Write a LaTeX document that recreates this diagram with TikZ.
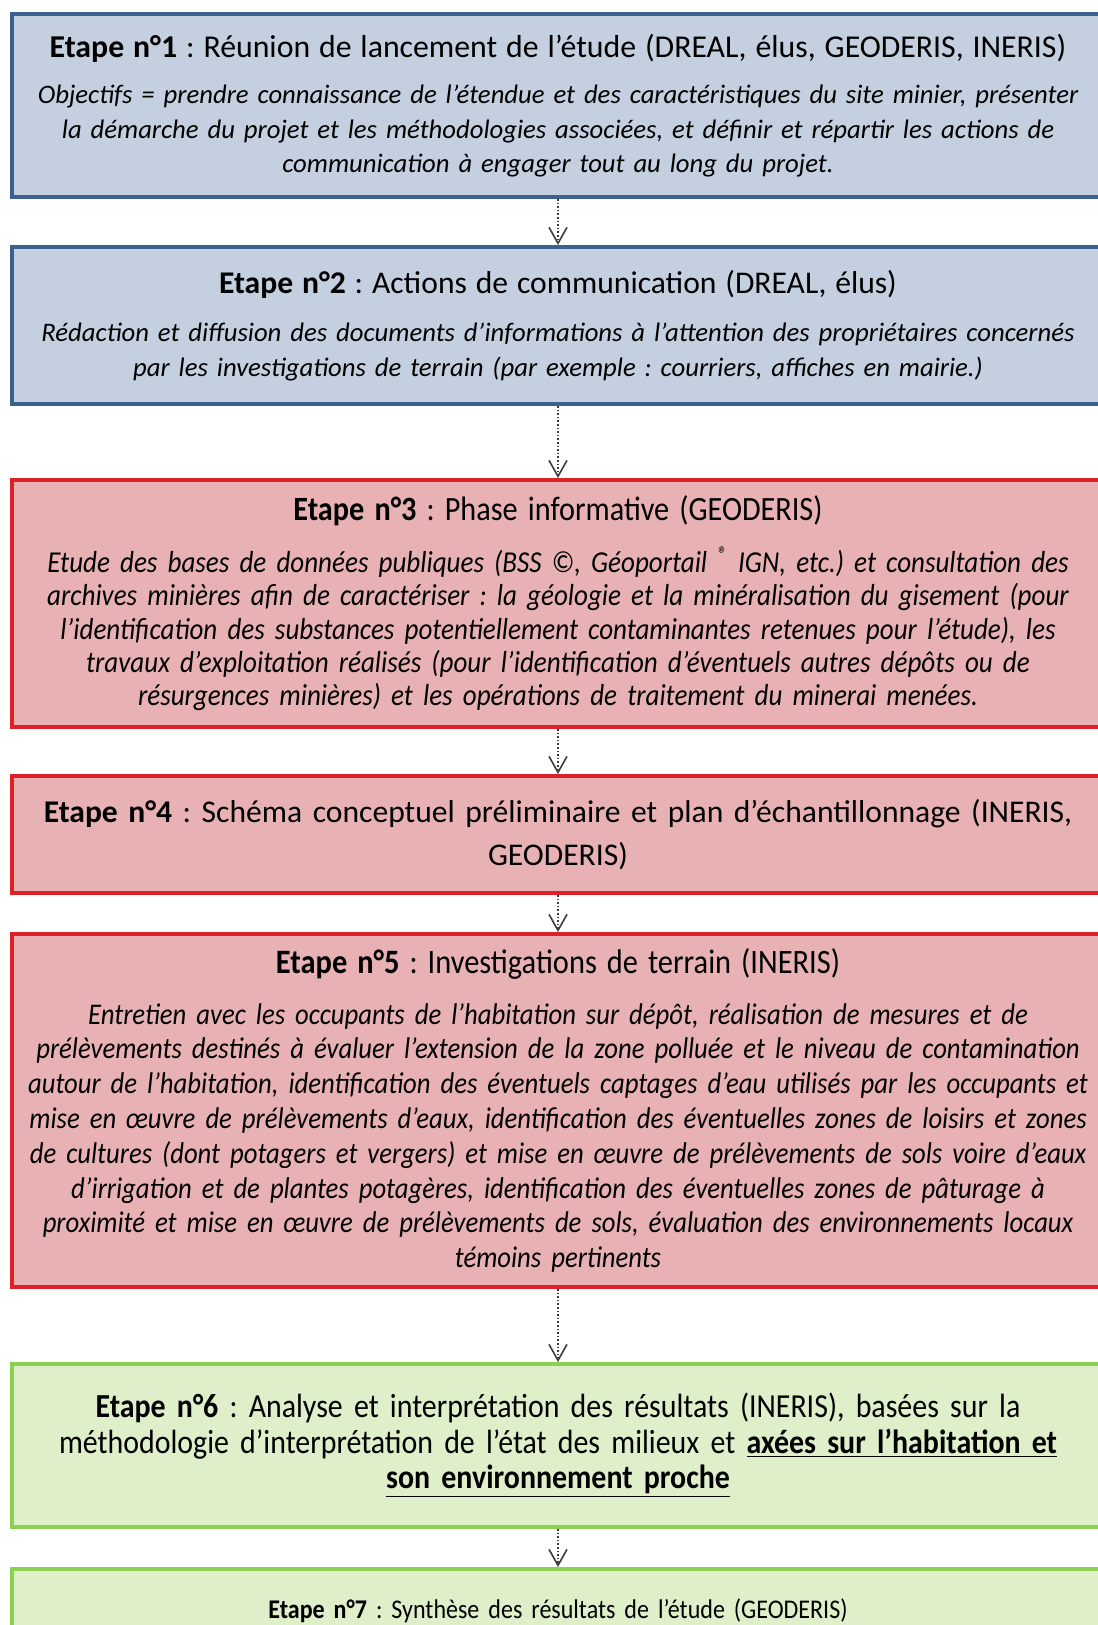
\documentclass[tikz,border=0pt]{standalone}
\usepackage{fontspec}
\setmainfont{Carlito}
\newfontfamily\narrowfont{Carlito}[FakeStretch=0.89]
\usetikzlibrary{arrows.meta}
\frenchspacing

\definecolor{bluefill}{RGB}{196,208,223}
\definecolor{blueline}{RGB}{58,96,145}
\definecolor{redfill}{RGB}{232,178,180}
\definecolor{redline}{RGB}{222,32,40}
\definecolor{greenfill}{RGB}{222,239,202}
\definecolor{greenline}{RGB}{140,208,82}
\definecolor{arrowgray}{RGB}{60,60,60}

% title of a step, in its own size
\newcommand{\steptitle}[2]{{\fontsize{#1}{#1}\selectfont #2}}

\begin{document}
\begin{tikzpicture}[x=0.5pt,y=-0.5pt,>={Straight Barb[length=8pt,width=9pt]}]
  \tikzstyle{stepbox}=[draw, line width=2pt, anchor=north, minimum width=546pt, text width=544pt, align=center, inner sep=0pt]
  \tikzstyle{bluebox}=[stepbox, draw=blueline, fill=bluefill, font=\fontsize{13.35}{17.25}\selectfont]
  \tikzstyle{redbox}=[stepbox, draw=redline, fill=redfill, font=\narrowfont\fontsize{15.2}{16.7}\selectfont]
  \tikzstyle{greenbox}=[stepbox, draw=greenline, fill=greenfill, font=\narrowfont\fontsize{16.8}{17.8}\selectfont]
  \tikzstyle{flow}=[->, densely dotted, line width=0.8pt, draw=arrowgray]

  \useasboundingbox (0,0) rectangle (1097,1625);

  \node[bluebox, minimum height=91.5pt] (step1) at (558,12) {\steptitle{15.9}{\textbf{Etape n°1} : Réunion de lancement de l’étude (DREAL, élus, GEODERIS, INERIS)}\\[6pt]
    {\itshape Objectifs = prendre connaissance de l’étendue et des caractéristiques du site minier, présenter\\
    la démarche du projet et les méthodologies associées, et définir et répartir les actions de\\
    communication à engager tout au long du projet.}};
  \node[bluebox, minimum height=78.5pt] (step2) at (558,245) {\steptitle{15.8}{\textbf{Etape n°2} : Actions de communication (DREAL, élus)}\\[7pt]
    {\itshape Rédaction et diffusion des documents d’informations à l’attention des propriétaires concernés\\
    par les investigations de terrain (par exemple : courriers, affiches en mairie.)}};
  \node[redbox, minimum height=123.5pt] (step3) at (558,478) {\steptitle{17}{\textbf{Etape n°3} : Phase informative (GEODERIS)}\\[9pt]
    {\itshape Etude des bases de données publiques (BSS ©, Géoportail \textsuperscript{®} IGN, etc.) et consultation des\\
    archives minières afin de caractériser : la géologie et la minéralisation du gisement (pour\\
    l’identification des substances potentiellement contaminantes retenues pour l’étude), les\\
    travaux d’exploitation réalisés (pour l’identification d’éventuels autres dépôts ou de\\
    résurgences minières) et les opérations de traitement du minerai menées.}};
  \node[redbox, minimum height=58.5pt, font=\fontsize{15.8}{21.2}\selectfont] (step4) at (558,774) {\textbf{Etape n°4} : Schéma conceptuel préliminaire et plan d’échantillonnage (INERIS,\\
    GEODERIS)};
  \node[redbox, minimum height=176.5pt, font=\narrowfont\fontsize{15}{17.4}\selectfont] (step5) at (558,932) {\steptitle{17.1}{\textbf{Etape n°5} : Investigations de terrain (INERIS)}\\[8pt]
    {\itshape Entretien avec les occupants de l’habitation sur dépôt, réalisation de mesures et de\\
    prélèvements destinés à évaluer l’extension de la zone polluée et le niveau de contamination\\
    autour de l’habitation, identification des éventuels captages d’eau utilisés par les occupants et\\
    mise en œuvre de prélèvements d’eaux, identification des éventuelles zones de loisirs et zones\\
    de cultures (dont potagers et vergers) et mise en œuvre de prélèvements de sols voire d’eaux\\
    d’irrigation et de plantes potagères, identification des éventuelles zones de pâturage à\\
    proximité et mise en œuvre de prélèvements de sols, évaluation des environnements locaux\\
    témoins pertinents}};
  \node[greenbox, minimum height=81.5pt] (step6) at (558,1362) {\textbf{Etape n°6} : Analyse et interprétation des résultats (INERIS), basées sur la\\
    méthodologie d’interprétation de l’état des milieux et \underline{\textbf{axées sur l’habitation et}}\\
    \underline{\textbf{son environnement proche}}};
  \node[greenbox, inner ysep=15pt, font=\narrowfont\fontsize{13.5}{17.2}\selectfont] (step7) at (558,1567) {\textbf{Etape n°7} : Synthèse des résultats de l’étude (GEODERIS)};

  \draw[flow] (step1.south) -- (step2.north);
  \draw[flow] (step2.south) -- (step3.north);
  \draw[flow] (step3.south) -- (step4.north);
  \draw[flow] (step4.south) -- (step5.north);
  \draw[flow] (step5.south) -- (step6.north);
  \draw[flow] (step6.south) -- (step7.north);
\end{tikzpicture}
\end{document}
